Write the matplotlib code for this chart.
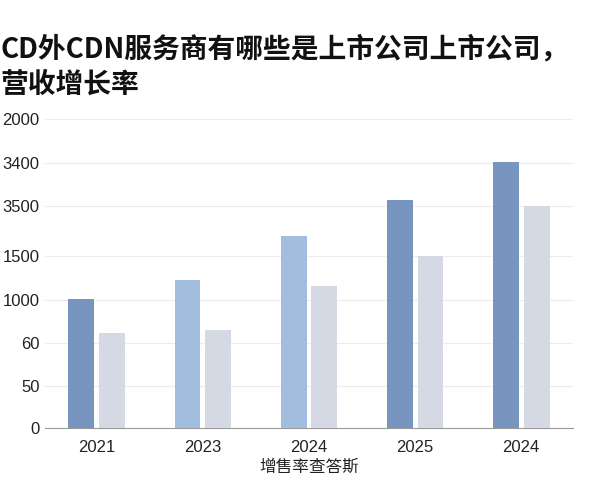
import matplotlib
matplotlib.use("Agg")
import matplotlib.pyplot as plt
import numpy as np

plt.rcParams['font.family'] = ['Noto Sans CJK SC', 'DejaVu Sans']

# datos (unidades del eje)
anios = ["2021", "2023", "2024", "2025", "2024"]
serie_a = [129, 148, 192, 228, 266]
serie_b = [95, 98, 142, 172, 222]
colores_a = ["#7895c0", "#a3bddf", "#a3bddf", "#7895c0", "#7895c0"]
color_b = "#d4d9e3"

# ticks del eje y (posiciones y etiquetas tal como aparecen)
ticks_y = [0, 42, 85, 128, 172, 222, 265, 309]
etiquetas_y = ["0", "50", "60", "1000", "1500", "3500", "3400", "2000"]

titulo = "CD外CDN服务商有哪些是上市公司上市公司，\n营收增长率"
etiqueta_x = "增售率查答斯"

fig = plt.figure(figsize=(6, 5), dpi=100)
ax = fig.add_axes([0.075, 0.144, 0.88, 0.632])

x = np.arange(len(anios))
ancho = 0.245
ax.bar(x - 0.146, serie_a, width=ancho, color=colores_a, zorder=3)
ax.bar(x + 0.146, serie_b, width=ancho, color=color_b, zorder=3)

ax.set_xlim(-0.49, 4.49)
ax.set_ylim(0, 316)
ax.set_yticks(ticks_y)
ax.set_yticklabels(etiquetas_y, family=['Liberation Sans', 'DejaVu Sans'])
ax.set_xticks(x)
ax.set_xticklabels(anios, family=['Liberation Sans', 'DejaVu Sans'])
ax.grid(axis='y', color='#ececec', linewidth=0.8, zorder=0)

for lado in ['top', 'right', 'left']:
    ax.spines[lado].set_visible(False)
ax.spines['bottom'].set_color('#9a9a9a')
ax.tick_params(axis='both', length=0, labelsize=12, colors='#222222')
ax.tick_params(axis='x', pad=9)
ax.tick_params(axis='y', pad=4)
ax.set_xlabel(etiqueta_x, fontsize=12, color='#222222', labelpad=2)

fig.text(0.0, 0.93, titulo, fontsize=20, fontweight='bold', va='top', ha='left',
         color='#111111', linespacing=1.35)

fig.savefig("out.png", dpi=100, facecolor='white')
